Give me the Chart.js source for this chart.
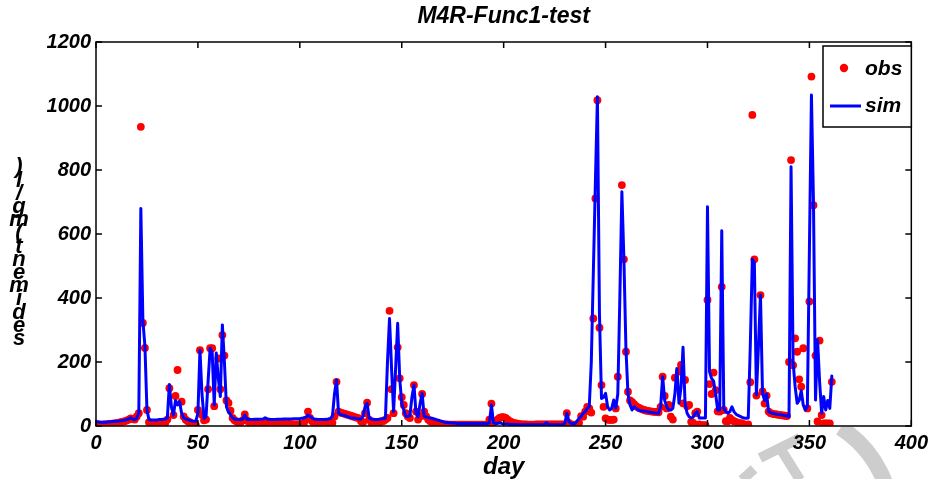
<!DOCTYPE html>
<html>
<head>
<meta charset="utf-8">
<title>M4R-Func1-test</title>
<script src="https://cdn.jsdelivr.net/npm/chart.js@4.4.1/dist/chart.umd.min.js"></script>
<style>
  html, body { margin: 0; padding: 0; background: #fff; }
  canvas { display: block; }
</style>
</head>
<body>
<canvas id="sedChart" width="933" height="479"></canvas>
<script>
// daily values, day 0 .. 361
const simValues = [
  13, 13, 12, 12, 12, 12, 13, 13, 14, 14,
  15, 15, 16, 17, 18, 20, 22, 26, 22, 20,
  24, 40, 680, 330, 250, 50, 20, 19, 19, 19,
  19, 20, 20, 21, 22, 25, 130, 60, 34, 80,
  66, 76, 40, 25, 22, 20, 18, 16, 15, 15,
  40, 237, 100, 24, 30, 140, 243, 230, 66, 228,
  150, 92, 316, 200, 60, 45, 35, 25, 22, 20,
  20, 20, 22, 34, 22, 20, 20, 20, 21, 21,
  21, 21, 22, 26, 22, 21, 20, 20, 20, 21,
  21, 21, 22, 22, 22, 22, 22, 23, 23, 23,
  23, 24, 25, 28, 34, 30, 25, 22, 21, 20,
  20, 20, 20, 21, 22, 24, 30, 100, 144, 40,
  36, 34, 32, 30, 28, 26, 25, 24, 23, 22,
  22, 30, 60, 71, 25, 22, 21, 20, 20, 21,
  22, 23, 24, 200, 336, 180, 45, 180, 321, 150,
  70, 50, 30, 30, 32, 90, 128, 40, 28, 70,
  102, 31, 28, 26, 25, 24, 22, 20, 18, 16,
  14, 12, 11, 10, 10, 9, 9, 8, 8, 8,
  8, 8, 8, 8, 8, 8, 8, 8, 8, 8,
  8, 8, 8, 10, 66, 10, 8, 8, 10, 8,
  7, 6, 6, 5, 5, 5, 5, 4, 4, 4,
  4, 4, 4, 4, 4, 4, 4, 4, 4, 4,
  5, 10, 5, 4, 4, 4, 4, 4, 4, 5,
  8, 40, 15, 8, 8, 8, 15, 24, 30, 40,
  45, 55, 60, 200, 480, 760, 1029, 350, 86, 90,
  102, 60, 50, 55, 81, 56, 100, 400, 732, 520,
  240, 100, 66, 50, 60, 55, 50, 48, 47, 46,
  45, 44, 43, 42, 41, 40, 40, 60, 154, 80,
  60, 50, 50, 55, 100, 180, 71, 120, 246, 71,
  40, 29, 25, 28, 40, 45, 25, 25, 25, 25,
  685, 170, 149, 140, 100, 50, 50, 610, 55, 45,
  40, 45, 60, 45, 37, 33, 30, 27, 25, 24,
  25, 250, 521, 510, 97, 250, 409, 102, 80, 100,
  45, 42, 40, 38, 37, 36, 35, 34, 33, 31,
  29, 810, 200, 123, 71, 80, 110, 65, 50, 60,
  550, 1034, 700, 81, 269, 140, 40, 92, 50, 80,
  55, 156
];

const obsValues = [
  5, 4, 4, 4, 5, 5, 6, 6, 7, 8,
  9, 10, 12, 13, 15, 17, 20, 24, 22, 20,
  30, 40, 935, 322, 244, 50, 12, 8, 6, 6,
  6, 7, 8, 9, 10, 20, 118, null, 34, 94,
  175, null, 76, 30, 20, 15, 12, 8, 5, 3,
  50, 237, 35, 18, 20, 115, 243, 243, 62, null,
  211, 115, 284, 220, 80, 72, 48, 25, 18, 14,
  12, 12, 18, 36, 18, 12, 10, 10, 10, 10,
  10, 10, 10, 12, 14, 10, 9, 8, 8, 8,
  8, 8, 8, 7, 7, 6, 6, 5, 5, 5,
  5, 6, 8, 20, 45, 25, 15, 10, 9, 9,
  10, 10, 10, 10, 9, 9, 10, 30, 138, 45,
  42, 40, 38, 36, 34, 32, 30, 28, 26, 24,
  15, 12, 40, 73, 20, 12, 10, 9, 10, 12,
  14, 16, 20, 25, 360, 115, 40, null, 246, 149,
  90, 66, 40, 30, 25, null, 128, 45, 20, 30,
  100, 45, 30, 20, 15, 12, 10, 8, 7, 6,
  5, 5, 5, 4, 4, 4, 4, 4, 4, 4,
  4, 4, 4, 4, 4, 4, 4, 4, 4, 4,
  4, 4, 4, 20, 70, 10, 15, 20, 25, 28,
  28, 25, 20, 15, 12, 10, 8, 7, 6, 5,
  5, 5, 4, 4, 4, 4, 5, 5, 5, 5,
  5, 5, 5, 5, 5, 5, 5, 5, 5, 5,
  5, 40, 10, 5, 4, 4, 5, 10, 31, 29,
  45, 60, 55, 42, 336, 711, 1018, 307, 128, 60,
  24, 20, 19, 19, 20, 55, 154, null, 753, 521,
  232, 107, 80, 75, 68, 62, 58, 55, 52, 50,
  48, 47, 46, 45, 44, 44, 43, 60, 154, 94,
  55, 66, 29, 20, 151, null, 170, 191, 71, 144,
  62, 66, 13, 10, 40, 45, 5, 3, 3, 3,
  394, 131, 100, 167, 112, 46, 45, 435, 50, 15,
  15, 25, 19, 15, 13, 10, 9, 8, 5, 3,
  5, 137, 972, 521, 95, null, 409, 108, 70, 95,
  45, 40, 38, 37, 36, 35, 34, 33, 32, 31,
  200, 831, 190, 274, 232, 146, 123, 243, null, 55,
  389, 1092, 690, 220, 14, 267, 34, 8, 8, 8,
  8, 138
];

const xTicks = [0, 50, 100, 150, 200, 250, 300, 350, 400];
const yTicks = [0, 200, 400, 600, 800, 1000, 1200];
const chartTitle = 'M4R-Func1-test';
const xTitle = 'day';
const yTitle = 'sediment(mg/l)';

const FONT = "'Liberation Sans', Arial, Helvetica, sans-serif";
const simPoints = simValues.map((v, i) => ({ x: i, y: v }));
const obsPoints = [];
obsValues.forEach((v, i) => { if (v !== null) obsPoints.push({ x: i, y: v }); });

// box, inward ticks, titles, stacked y label, legend, watermark
const decorPlugin = {
  id: 'decor',
  beforeDraw(chart) {
    const ctx = chart.ctx;
    const area = chart.chartArea;
    ctx.save();
    ctx.beginPath();
    ctx.rect(0, area.bottom + 1, chart.width, chart.height);
    ctx.clip();
    ctx.strokeStyle = '#cdcdcd';
    ctx.lineWidth = 16;
    ctx.beginPath();
    ctx.arc(780, 522, 112, -1.0, 0.1);
    ctx.stroke();
    ctx.lineWidth = 10;
    ctx.beginPath();
    ctx.moveTo(760, 458); ctx.lineTo(800, 438);
    ctx.moveTo(780, 448); ctx.lineTo(800, 480);
    ctx.moveTo(742, 480); ctx.lineTo(754, 469);
    ctx.stroke();
    ctx.restore();
  },
  afterDraw(chart) {
    const ctx = chart.ctx;
    const area = chart.chartArea;
    const xs = chart.scales.x;
    const ys = chart.scales.y;
    ctx.save();
    ctx.strokeStyle = '#000';
    ctx.lineWidth = 1.5;
    ctx.strokeRect(area.left, area.top, area.right - area.left, area.bottom - area.top);
    ctx.beginPath();
    xTicks.forEach(t => {
      const px = xs.getPixelForValue(t);
      ctx.moveTo(px, area.bottom); ctx.lineTo(px, area.bottom - 6);
      ctx.moveTo(px, area.top); ctx.lineTo(px, area.top + 6);
    });
    yTicks.forEach(t => {
      const py = ys.getPixelForValue(t);
      ctx.moveTo(area.left, py); ctx.lineTo(area.left + 6, py);
      ctx.moveTo(area.right, py); ctx.lineTo(area.right - 6, py);
    });
    ctx.stroke();

    // titles
    ctx.fillStyle = '#000';
    ctx.font = 'italic bold 23px ' + FONT;
    ctx.textAlign = 'center';
    ctx.textBaseline = 'middle';
    ctx.fillText(chartTitle, (area.left + area.right) / 2, 17);
    ctx.font = 'italic bold 24px ' + FONT;
    ctx.fillText(xTitle, (area.left + area.right) / 2, 467);

    // y label: upright characters stacked from bottom to top
    ctx.font = 'italic bold 22px ' + FONT;
    ctx.textBaseline = 'alphabetic';
    for (let i = 0; i < yTitle.length; i++) {
      ctx.fillText(yTitle[i], 19, 345 - i * 13.2);
    }

    // legend
    const lx = 823, ly = 46, lw = area.right - 823, lh = 81;
    ctx.fillStyle = '#fff';
    ctx.fillRect(lx, ly, lw, lh);
    ctx.lineWidth = 1.5;
    ctx.strokeRect(lx, ly, lw, lh);
    ctx.fillStyle = '#ff0000';
    ctx.beginPath();
    ctx.arc(844, 68, 4.2, 0, Math.PI * 2);
    ctx.fill();
    ctx.strokeStyle = '#0000ff';
    ctx.lineWidth = 3;
    ctx.beginPath();
    ctx.moveTo(830, 106); ctx.lineTo(861, 106);
    ctx.stroke();
    ctx.fillStyle = '#000';
    ctx.font = 'italic bold 21px ' + FONT;
    ctx.textAlign = 'left';
    ctx.textBaseline = 'middle';
    ctx.fillText('obs', 865, 69);
    ctx.fillText('sim', 865, 106);
    ctx.restore();
  }
};

const tickFont = { family: FONT, size: 20, style: 'italic', weight: 'bold' };

new Chart(document.getElementById('sedChart'), {
  type: 'scatter',
  data: {
    datasets: [
      {
        label: 'sim',
        data: simPoints,
        showLine: true,
        borderColor: '#0000ff',
        borderWidth: 3,
        borderJoinStyle: 'round',
        borderCapStyle: 'round',
        pointRadius: 0,
        tension: 0,
        order: 0
      },
      {
        label: 'obs',
        data: obsPoints,
        backgroundColor: '#ff0000',
        borderWidth: 0,
        pointRadius: 3.9,
        order: 1
      }
    ]
  },
  options: {
    responsive: false,
    animation: false,
    devicePixelRatio: 1,
    layout: { padding: { top: 42, right: 21, left: 0, bottom: 0 } },
    plugins: {
      legend: { display: false },
      tooltip: { enabled: false },
      title: { display: false }
    },
    scales: {
      x: {
        type: 'linear',
        min: 0,
        max: 400,
        afterFit(scale) { scale.height = 53; },
        afterBuildTicks(scale) { scale.ticks = xTicks.map(v => ({ value: v })); },
        grid: { display: false, drawTicks: false },
        border: { display: false },
        ticks: { font: tickFont, color: '#000', padding: 5, maxRotation: 0, callback: v => String(v) }
      },
      y: {
        type: 'linear',
        min: 0,
        max: 1200,
        afterFit(scale) { scale.width = 96; },
        afterBuildTicks(scale) { scale.ticks = yTicks.map(v => ({ value: v })); },
        grid: { display: false, drawTicks: false },
        border: { display: false },
        ticks: { font: tickFont, color: '#000', padding: 5, callback: v => String(v) }
      }
    }
  },
  plugins: [decorPlugin]
});
</script>
</body>
</html>
